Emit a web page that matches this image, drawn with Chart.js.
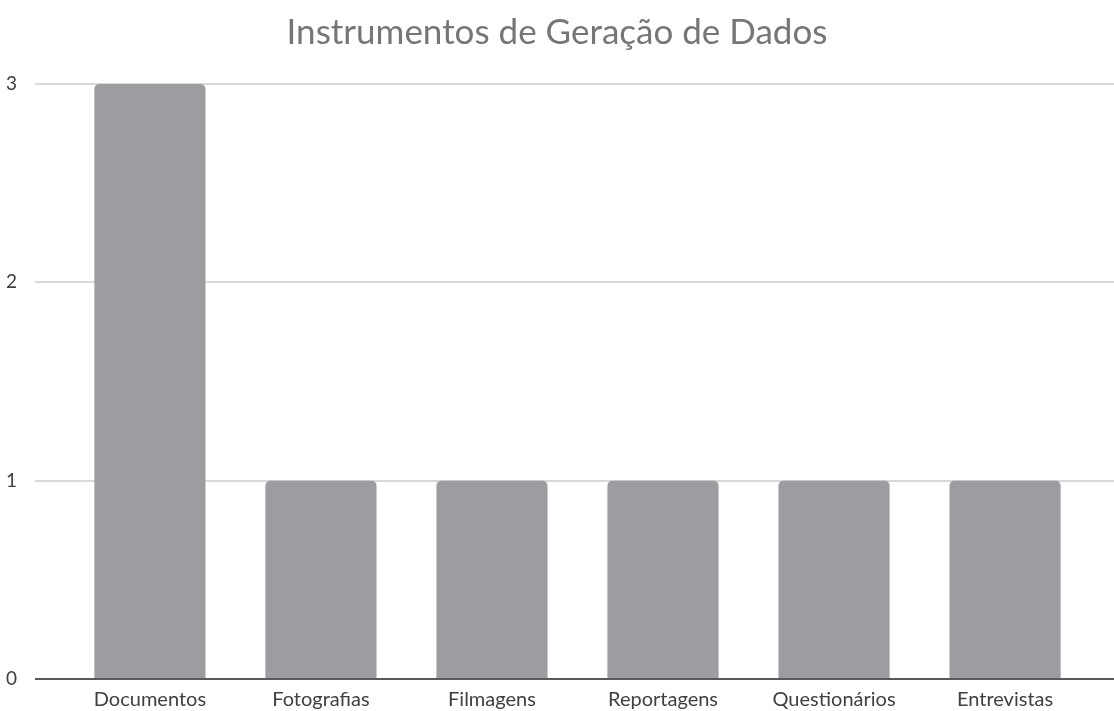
<!DOCTYPE html>
<html>
<head>
<meta charset="utf-8">
<script src="https://cdn.jsdelivr.net/npm/chart.js@4"></script>
<style>
  html, body { margin: 0; padding: 0; background: #fff; }
  #wrap { width: 1114px; height: 711px; }
</style>
</head>
<body>
<div id="wrap"><canvas id="chart"></canvas></div>
<script>
const categories = ["Documentos", "Fotografias", "Filmagens", "Reportagens", "Questionários", "Entrevistas"];
const counts = [3, 1, 1, 1, 1, 1];
const yTicks = [0, 1, 2, 3];

const ctx = document.getElementById("chart").getContext("2d");

const data = {
  datasets: [
    {
      label: "Instrumentos",
      data: counts.map((v, i) => ({ x: i, y: v })),
      backgroundColor: "#9c9da1",
      borderRadius: 5,
      borderSkipped: "start",
      barPercentage: 0.65,
      categoryPercentage: 1
    }
  ]
};

const options = {
  maintainAspectRatio: false,
  responsive: true,
  animation: false,
  layout: { padding: 0 },
  plugins: {
    legend: { display: false },
    tooltip: { enabled: false },
    title: {
      display: true,
      text: "Instrumentos de Geração de Dados",
      color: "#767676",
      font: { family: "Lato", size: 35, weight: "normal", lineHeight: 1.2 },
      padding: { top: 12, bottom: 30 }
    }
  },
  scales: {
    x: {
      type: "linear",
      offset: false,
      min: -0.672,
      max: 5.637,
      grid: { display: false, offset: false },
      border: { display: false },
      afterBuildTicks: axis => { axis.ticks = categories.map((_, i) => ({ value: i })); },
      afterFit: axis => { axis.height = 32; },
      ticks: {
        autoSkip: false,
        maxRotation: 0,
        padding: 1,
        color: "#404040",
        font: { family: "Lato", size: 20 },
        callback: v => categories[v] ?? ""
      }
    },
    y: {
      min: 0,
      max: 3,
      afterBuildTicks: axis => { axis.ticks = yTicks.map(v => ({ value: v })); },
      afterFit: axis => { axis.width = 35; },
      border: { display: false },
      grid: {
        drawTicks: false,
        color: c => (c.tick && c.tick.value === 0 ? "#595959" : "#d9d9d9"),
        lineWidth: 2
      },
      ticks: {
        padding: 18,
        color: "#404040",
        font: { family: "Lato", size: 19 }
      }
    }
  }
};

new Chart(ctx, { type: "bar", data: data, options: options });
</script>
</body>
</html>
